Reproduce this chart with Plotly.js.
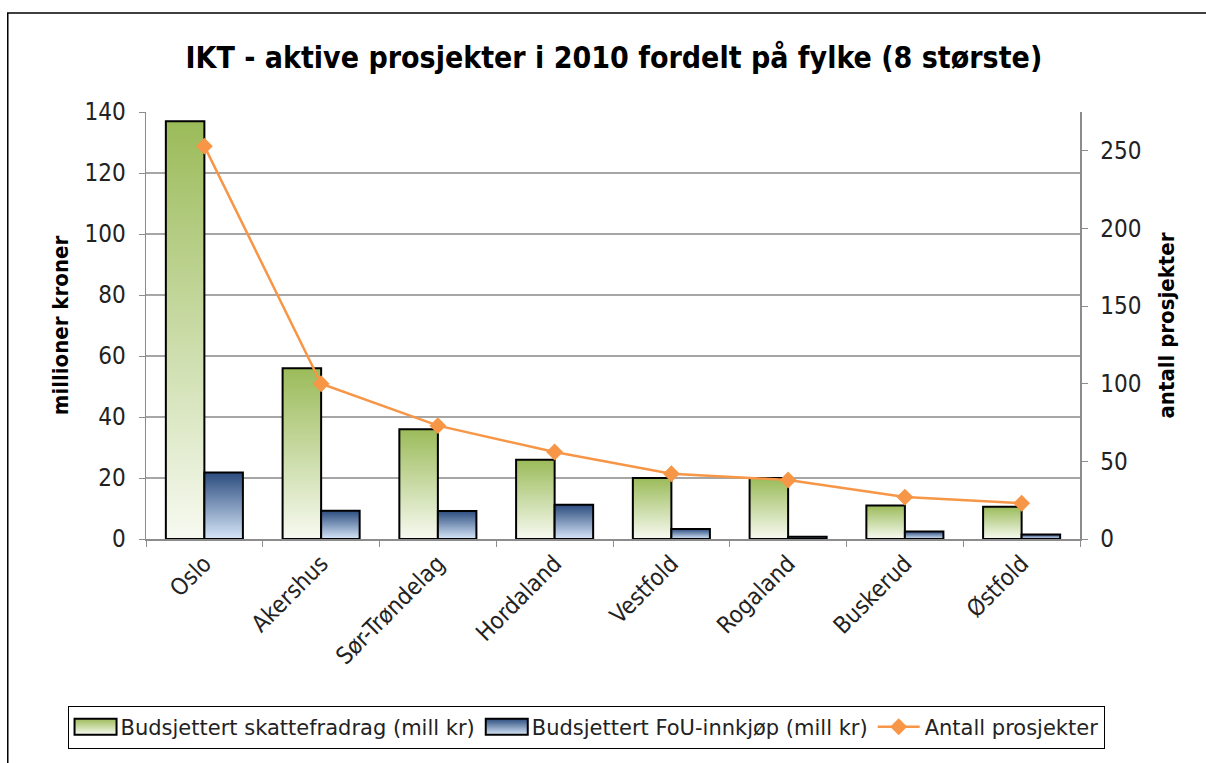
<!DOCTYPE html>
<html><head><meta charset="utf-8">
<script src="https://cdn.plot.ly/plotly-3.0.1.min.js"></script>
<style>html,body{margin:0;padding:0;background:#fff}#chart{width:1206px;height:763px}</style>
</head><body><div id="chart"></div>
<script>
const categories = ["Oslo","Akershus","Sør-Trøndelag","Hordaland","Vestfold","Rogaland","Buskerud","Østfold"];
const skattefradrag = [137, 56, 36, 26, 20, 20, 11, 10.6];
const fouInnkjop = [21.8, 9.3, 9.2, 11.2, 3.3, 0.7, 2.5, 1.5];
const antallProsjekter = [253, 100, 73, 56, 42, 38, 27, 23];
const seriesNames = ["Budsjettert skattefradrag (mill kr)", "Budsjettert FoU-innkjøp (mill kr)", "Antall prosjekter"];
const titleText = "IKT - aktive prosjekter i 2010 fordelt på fylke (8 største)";
const leftTitle = "millioner kroner";
const rightTitle = "antall prosjekter";

const FONT = "'DejaVu Sans Condensed', 'DejaVu Sans', sans-serif";
const LFONT = "'DejaVu Sans', sans-serif";

const traces = [
  {type:'bar', name:seriesNames[0], x:categories, y:skattefradrag,
   marker:{color:'#B5CC83', line:{color:'#000', width:2}}, yaxis:'y'},
  {type:'bar', name:seriesNames[1], x:categories, y:fouInnkjop,
   marker:{color:'#7F9CC4', line:{color:'#000', width:2}}, yaxis:'y'},
  {type:'scatter', mode:'lines+markers', name:seriesNames[2], x:categories, y:antallProsjekter,
   line:{color:'#F79646', width:2.5}, marker:{symbol:'diamond', size:13, color:'#F79646'}, yaxis:'y2'}
];

const layout = {
  width:1206, height:763,
  paper_bgcolor:'#fff', plot_bgcolor:'#fff',
  margin:{l:146, r:126, t:112, b:224},
  font:{family:FONT, size:22, color:'#222'},
  title:{text:'<b>'+titleText+'</b>', font:{family:FONT, size:30, color:'#000'}, x:0.509, xanchor:'center', y:0.925, yanchor:'middle'},
  barmode:'group', bargap:0.34, bargroupgap:0,
  showlegend:true,
  legend:{orientation:'h', x:-0.084, xanchor:'left', y:-0.39, yanchor:'top',
    bordercolor:'#000', borderwidth:1, font:{family:LFONT, size:21, color:'#222'},
    traceorder:'normal', itemwidth:42, tracegroupgap:0},
  xaxis:{type:'category', tickangle:-45, showgrid:false, showline:true, linecolor:'#8c8c8c', linewidth:1.5,
    ticks:'outside', tickson:'boundaries', ticklen:6, tickcolor:'#8c8c8c',
    tickfont:{family:FONT, size:23.5, color:'#222'}},
  yaxis:{range:[0,140], dtick:20, showgrid:true, gridcolor:'#a6a6a6', gridwidth:1.5, zeroline:false,
    showline:true, linecolor:'#8c8c8c', linewidth:1.5, ticks:'outside', ticklen:6, tickcolor:'#8c8c8c',
    tickfont:{family:FONT, size:24, color:'#222'}, ticklabelstandoff:8,
    title:{text:'<b>'+leftTitle+'</b>', font:{family:FONT, size:22, color:'#000'}, standoff:10}},
  yaxis2:{range:[0,275], dtick:50, overlaying:'y', side:'right', showgrid:false, zeroline:false,
    showline:true, linecolor:'#8c8c8c', linewidth:1.5, ticks:'outside', ticklen:6, tickcolor:'#8c8c8c',
    tickfont:{family:FONT, size:24, color:'#222'}, ticklabelstandoff:8,
    title:{text:'<b>'+rightTitle+'</b>', font:{family:FONT, size:22, color:'#000'}, standoff:18}},
  shapes:[{type:'rect', xref:'paper', yref:'paper', x0:-0.148, x1:1.4, y0:1.232, y1:-0.9,
    line:{color:'#000', width:1.5}, fillcolor:'rgba(0,0,0,0)', layer:'below'}]
};

function addGradients(gd){
  const svg = gd.querySelector('svg.main-svg');
  if(!svg) return;
  const ns = 'http://www.w3.org/2000/svg';
  let defs = svg.querySelector('defs');
  if(!defs){ defs = document.createElementNS(ns,'defs'); svg.insertBefore(defs, svg.firstChild); }
  const grads = [['gradGreen','#9BBB59','#F7FAF1'],['gradBlue','#2B4C7E','#D6E6F8']];
  grads.forEach(([id,c1,c2])=>{
    const g = document.createElementNS(ns,'linearGradient');
    g.setAttribute('id',id); g.setAttribute('x1','0'); g.setAttribute('y1','0'); g.setAttribute('x2','0'); g.setAttribute('y2','1');
    [[0,c1],[1,c2]].forEach(([o,c])=>{const s=document.createElementNS(ns,'stop'); s.setAttribute('offset',o); s.setAttribute('stop-color',c); g.appendChild(s);});
    defs.appendChild(g);
  });
  const barTraces = gd.querySelectorAll('.barlayer .trace');
  barTraces.forEach((t,i)=>{
    const id = i===0 ? 'gradGreen' : 'gradBlue';
    t.querySelectorAll('path').forEach(p=>{ p.style.fill = 'url(#'+id+')'; });
  });
  const legendTraces = gd.querySelectorAll('.legend .traces');
  legendTraces.forEach((t,i)=>{
    if(i<2){ t.querySelectorAll('.legendpoints path').forEach(p=>{
      p.setAttribute('d','M-20,-8h42v16h-42z');
      p.style.fill='url(#'+(i===0?'gradGreen':'gradBlue')+')'; p.style.stroke='#000'; p.style.strokeWidth='2px'; }); }
  });
}

Plotly.newPlot('chart', traces, layout, {displayModeBar:false, staticPlot:true}).then(addGradients);
</script>
</body></html>
